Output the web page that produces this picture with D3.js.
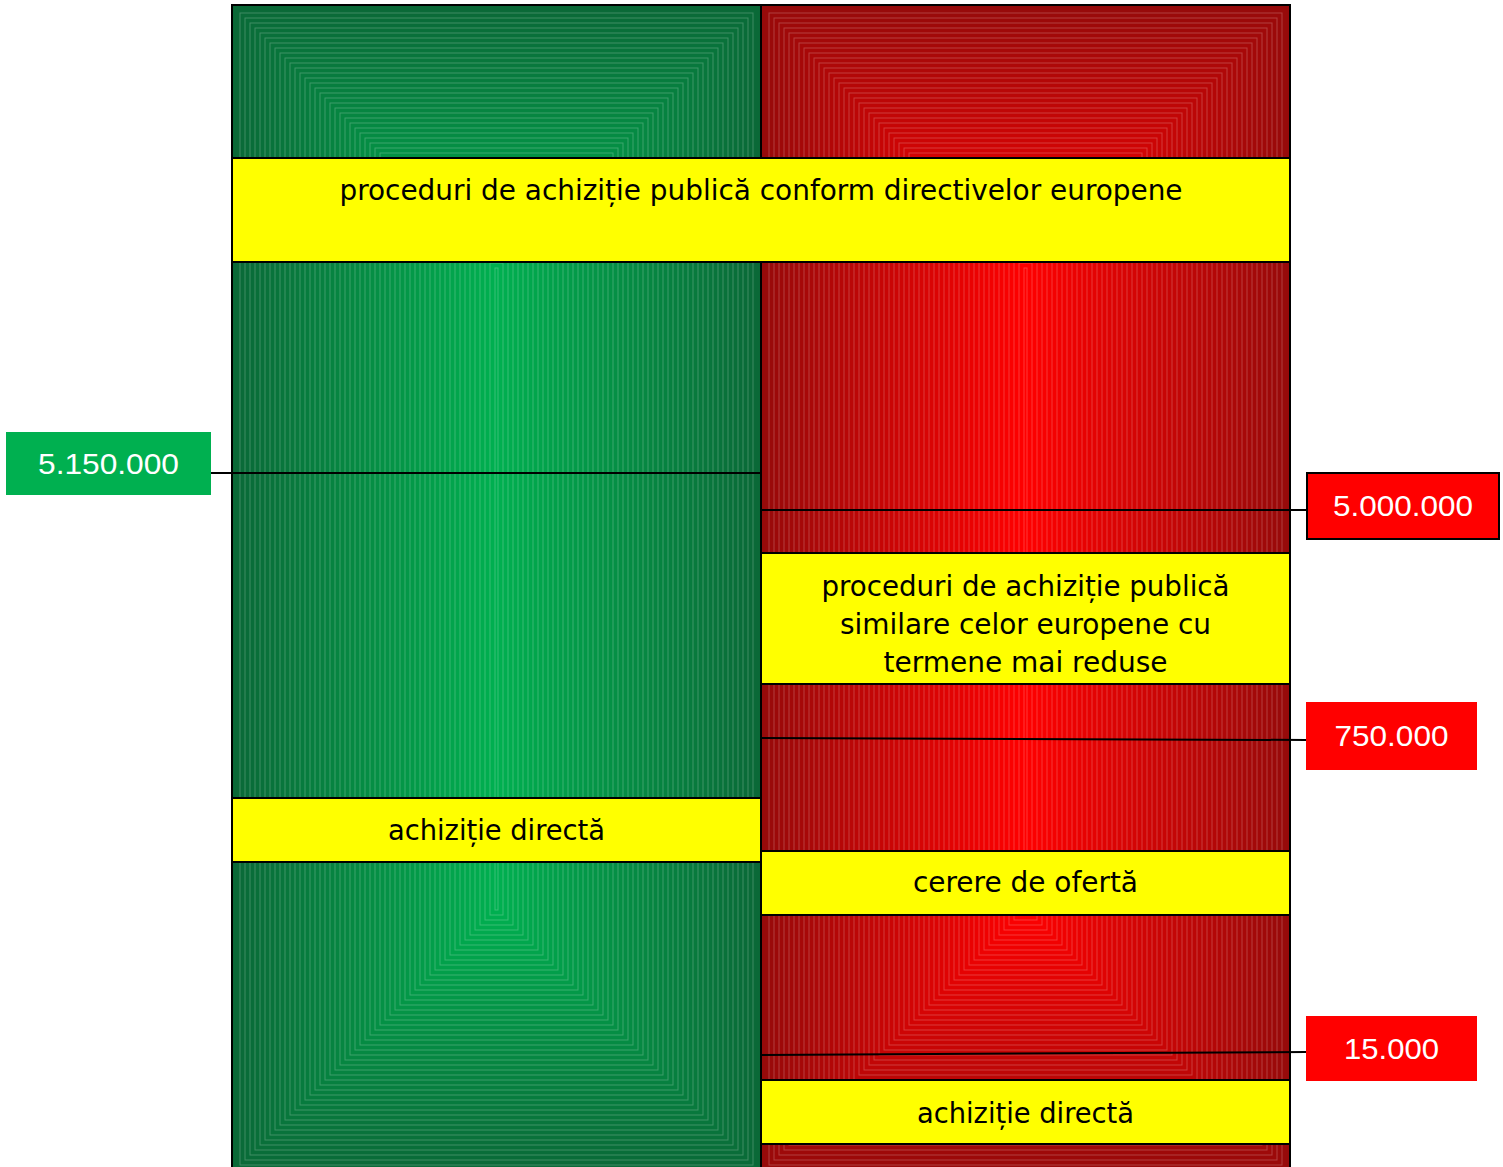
<!DOCTYPE html>
<html>
<head>
<meta charset="utf-8">
<script src="https://cdn.jsdelivr.net/npm/d3@7"></script>
<style>
  body { margin: 0; background: #fff; }
  svg { display: block; }
</style>
</head>
<body>
<div id="chart"></div>
<script>
// columns: left = procurement above threshold (green), right = below (red)
const columns = ['green', 'red'];
const edgeColors = { green: '#0a6837', red: '#960a0a' };
const centerColors = { green: '#00b050', red: '#ff0000' };

// value thresholds shown in the side boxes
const thresholdValues = [5150000, 5000000, 750000, 15000];
const thresholdColumns = ['green', 'red', 'red', 'red'];
const thresholdBorder = [false, true, false, false];

// procedure labels (yellow bands)
const bandLabels = [
    ['proceduri de achiziție publică conform directivelor europene'],
    ['proceduri de achiziție publică', 'similare celor europene cu', 'termene mai reduse'],
    ['achiziție directă'],
    ['cerere de ofertă'],
    ['achiziție directă']
];
const bandColumns = [['green', 'red'], ['red'], ['green'], ['red'], ['red']];

// layout (pixels)
const W = 1503, H = 1167;
const colTop = 5, colBottom = 1173;
const bandBoxes = [[158, 262], [553, 684], [798, 862], [851, 915], [1080, 1144]];
const bandBaselines = [[200], [596, 634, 672], [840], [892], [1123]];
const bandWidths = [[843], [408, 371, 284], [217], [225], [217]];
const thrBoxes = [[6, 432, 205, 63], [1307, 473, 192, 66], [1306, 702, 171, 68], [1306, 1016, 171, 65]];
const thrLineY = [[473, 473], [510, 510], [738, 740], [1055, 1052]];
const thrTextW = [141, 140, 114, 95];

const svg = d3.select('#chart').append('svg')
    .attr('width', W)
    .attr('height', H);

const x = d3.scaleBand().domain(columns).range([232, 1290]).padding(0);
const fmt = d3.formatLocale({ decimal: ',', thousands: '.', grouping: [3], currency: ['', ''] }).format(',d');

// column fills: inset rectangles -> box shaped gradient
const half = x.bandwidth() / 2;
const insets = d3.range(0, Math.ceil(half) + 1, 1);
columns.forEach(c => {
    const col = d3.scaleLinear().domain([0, half])
        .range([edgeColors[c], centerColors[c]])
        .interpolate(d3.interpolateRgb);
    const g = svg.append('g');
    g.selectAll('rect')
        .data(insets)
        .enter()
        .append('rect')
        .attr('x', d => x(c) + d)
        .attr('y', d => colTop + d)
        .attr('width', d => Math.max(0, x.bandwidth() - 2 * d))
        .attr('height', d => Math.max(0, colBottom - colTop - 2 * d))
        .attr('fill', d => col(d))
        .attr('stroke', d => (d % 5 === 3 && d > 4) ? 'rgba(255,255,255,0.22)' : 'none')
        .attr('stroke-width', 1);
    g.append('rect')
        .attr('x', x(c))
        .attr('y', colTop)
        .attr('width', x.bandwidth())
        .attr('height', colBottom - colTop)
        .attr('fill', 'none')
        .attr('stroke', '#000')
        .attr('stroke-width', 2);
});

// threshold lines + boxes
thresholdValues.forEach((v, i) => {
    const b = thrBoxes[i];
    const isLeft = thresholdColumns[i] === 'green';
    const x1 = isLeft ? b[0] + b[2] : x('red');
    const x2 = isLeft ? x('red') : b[0];
    svg.append('line')
        .attr('x1', x1).attr('y1', thrLineY[i][0])
        .attr('x2', x2).attr('y2', thrLineY[i][1])
        .attr('stroke', '#000')
        .attr('stroke-width', 2);
    svg.append('rect')
        .attr('x', b[0]).attr('y', b[1])
        .attr('width', b[2]).attr('height', b[3])
        .attr('fill', centerColors[thresholdColumns[i]])
        .attr('stroke', thresholdBorder[i] ? '#000' : 'none')
        .attr('stroke-width', 2);
    svg.append('text')
        .attr('x', b[0] + b[2] / 2)
        .attr('y', b[1] + b[3] / 2 + 10)
        .attr('text-anchor', 'middle')
        .attr('font-family', '"Liberation Sans", Arial, sans-serif')
        .attr('font-size', 30)
        .attr('fill', '#fff')
        .attr('textLength', thrTextW[i])
        .attr('lengthAdjust', 'spacingAndGlyphs')
        .text(fmt(v));
});

// yellow bands
bandLabels.forEach((lines, i) => {
    const cols = bandColumns[i];
    const x0 = d3.min(cols, c => x(c));
    const x1 = d3.max(cols, c => x(c) + x.bandwidth());
    const [y0, y1] = bandBoxes[i];
    svg.append('rect')
        .attr('x', x0).attr('y', y0)
        .attr('width', x1 - x0).attr('height', y1 - y0)
        .attr('fill', '#ffff00')
        .attr('stroke', '#000')
        .attr('stroke-width', 2);
    lines.forEach((t, j) => {
        svg.append('text')
            .attr('x', (x0 + x1) / 2)
            .attr('y', bandBaselines[i][j])
            .attr('text-anchor', 'middle')
            .attr('font-family', '"DejaVu Sans Condensed", "DejaVu Sans", Verdana, sans-serif')
            .attr('font-size', 28)
            .attr('fill', '#000')
            .attr('textLength', bandWidths[i][j])
            .attr('lengthAdjust', 'spacingAndGlyphs')
            .text(t);
    });
});
</script>
</body>
</html>
